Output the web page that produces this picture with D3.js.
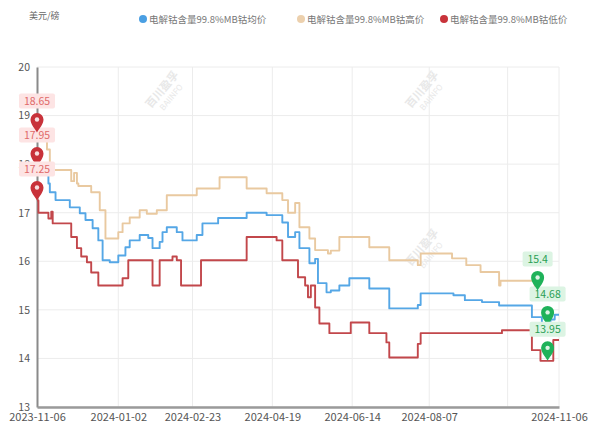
<!DOCTYPE html>
<html>
<head>
<meta charset="utf-8">
<script src="https://cdn.jsdelivr.net/npm/d3@7"></script>
<style>
  body { margin: 0; background: #fff; }
  svg { display: block; }
</style>
</head>
<body>
<svg id="chart" width="590" height="425"></svg>
<script>
// Axis ticks
const tickDates = ["2023-11-06", "2024-01-02", "2024-02-23", "2024-04-19", "2024-06-14", "2024-08-07", "2024-11-06"];
const gridOnlyDates = ["2024-10-01"];
const yTicks = [13, 14, 15, 16, 17, 18, 19, 20];
const unitLabel = "美元/磅";

// Series names
const seriesNames = ["电解钴含量99.8%MB钴均价", "电解钴含量99.8%MB钴高价", "电解钴含量99.8%MB钴低价"];

// Price samples [date, price] (each price holds until the next sample)
const avgPrice = [
  ["2023-11-06", 17.95], ["2023-11-14", 17.6], ["2023-11-15", 17.42], ["2023-11-19", 17.26],
  ["2023-11-29", 17.11], ["2023-12-06", 16.99], ["2023-12-10", 16.85], ["2023-12-15", 16.68],
  ["2023-12-19", 16.43], ["2023-12-22", 16.02], ["2023-12-27", 15.98], ["2024-01-02", 16.12],
  ["2024-01-07", 16.29], ["2024-01-10", 16.43], ["2024-01-17", 16.54], ["2024-01-23", 16.48],
  ["2024-01-26", 16.27], ["2024-01-31", 16.4], ["2024-02-02", 16.6], ["2024-02-05", 16.7],
  ["2024-02-12", 16.6], ["2024-02-16", 16.43], ["2024-02-26", 16.54], ["2024-03-01", 16.78],
  ["2024-03-12", 16.89], ["2024-04-01", 17.0], ["2024-04-15", 16.95], ["2024-04-26", 16.8],
  ["2024-04-30", 16.5], ["2024-05-05", 16.6], ["2024-05-08", 16.27], ["2024-05-15", 15.96],
  ["2024-05-19", 16.05], ["2024-05-21", 15.55], ["2024-05-27", 15.36], ["2024-05-30", 15.4],
  ["2024-06-05", 15.5], ["2024-06-12", 15.65], ["2024-06-26", 15.44], ["2024-07-10", 15.03],
  ["2024-07-30", 15.1], ["2024-08-01", 15.34], ["2024-08-24", 15.3], ["2024-09-01", 15.2],
  ["2024-09-13", 15.16], ["2024-09-25", 15.09], ["2024-10-18", 14.85], ["2024-10-25", 14.68],
  ["2024-10-29", 14.68], ["2024-10-31", 14.8], ["2024-11-03", 14.9], ["2024-11-06", 14.9]
];
const highPrice = [
  ["2023-11-06", 18.65], ["2023-11-13", 18.3], ["2023-11-15", 17.88], ["2023-11-30", 17.65],
  ["2023-12-02", 17.82], ["2023-12-04", 17.6], ["2023-12-05", 17.55], ["2023-12-14", 17.42],
  ["2023-12-20", 17.05], ["2023-12-24", 16.47], ["2024-01-02", 16.6], ["2024-01-05", 16.78],
  ["2024-01-10", 16.9], ["2024-01-17", 17.05], ["2024-01-22", 16.98], ["2024-01-29", 17.05],
  ["2024-02-05", 17.36], ["2024-02-26", 17.5], ["2024-03-13", 17.73], ["2024-04-01", 17.5],
  ["2024-04-15", 17.4], ["2024-04-26", 17.26], ["2024-04-30", 17.0], ["2024-05-05", 17.2],
  ["2024-05-08", 16.7], ["2024-05-15", 16.47], ["2024-05-19", 16.23], ["2024-05-28", 16.16],
  ["2024-05-30", 16.22], ["2024-06-05", 16.5], ["2024-06-26", 16.29], ["2024-07-10", 16.02],
  ["2024-07-30", 15.92], ["2024-08-01", 16.16], ["2024-08-23", 16.06], ["2024-09-02", 15.92],
  ["2024-09-12", 15.78], ["2024-09-25", 15.5], ["2024-09-26", 15.6], ["2024-10-20", 15.4],
  ["2024-10-22", 15.4]
];
const lowPrice = [
  ["2023-11-06", 17.25], ["2023-11-07", 17.0], ["2023-11-14", 16.88], ["2023-11-16", 17.02],
  ["2023-11-17", 16.78], ["2023-11-30", 16.5], ["2023-12-04", 16.27], ["2023-12-07", 16.1],
  ["2023-12-11", 15.98], ["2023-12-14", 15.77], ["2023-12-19", 15.5], ["2024-01-05", 15.65],
  ["2024-01-09", 16.02], ["2024-01-26", 15.5], ["2024-01-31", 16.02], ["2024-02-09", 16.1],
  ["2024-02-12", 16.02], ["2024-02-15", 15.5], ["2024-02-29", 16.02], ["2024-04-01", 16.5],
  ["2024-04-22", 16.43], ["2024-04-26", 16.02], ["2024-05-07", 15.67], ["2024-05-12", 15.5],
  ["2024-05-14", 15.26], ["2024-05-16", 15.5], ["2024-05-19", 15.05], ["2024-05-22", 14.72],
  ["2024-05-29", 14.52], ["2024-06-13", 14.74], ["2024-06-26", 14.52], ["2024-07-08", 14.33],
  ["2024-07-10", 14.02], ["2024-07-30", 14.3], ["2024-08-01", 14.52], ["2024-09-27", 14.58],
  ["2024-10-18", 14.17], ["2024-10-24", 13.95], ["2024-10-29", 13.95], ["2024-11-02", 14.38],
  ["2024-11-06", 14.38]
];

const seriesColors = ["#55a7e6", "#e9c9a0", "#c2474b"];
const legendDotColors = ["#4a9fe3", "#ecd0ad", "#c8333a"];

const parse = d3.timeParse("%Y-%m-%d");
const svg = d3.select("#chart");
const fontCJK = "'Noto Sans CJK SC', 'Noto Sans', sans-serif";

const x = d3.scaleTime()
  .domain([parse(tickDates[0]), parse(tickDates[tickDates.length - 1])])
  .range([37, 559]);
const y = d3.scaleLinear().domain([13, 20]).range([407, 67]);

// Grid
const grid = svg.append("g");
grid.selectAll("line.h").data(yTicks).join("line")
  .attr("x1", x.range()[0]).attr("x2", x.range()[1])
  .attr("y1", d => y(d)).attr("y2", d => y(d))
  .attr("stroke", "#ececec").attr("stroke-width", 1);
grid.selectAll("line.v").data(tickDates.slice(1).concat(gridOnlyDates)).join("line")
  .attr("x1", d => x(parse(d))).attr("x2", d => x(parse(d)))
  .attr("y1", y(20)).attr("y2", y(13))
  .attr("stroke", "#ececec").attr("stroke-width", 1);

// Watermarks
const wm = svg.append("g").attr("fill", "#e8e8e8").attr("font-family", fontCJK);
[[165, 92], [425, 92], [425, 250]].forEach(([cx, cy]) => {
  const g = wm.append("g").attr("transform", `translate(${cx},${cy}) rotate(-50)`);
  g.append("text").attr("text-anchor", "middle").attr("font-size", 11).attr("font-weight", "bold").text("百川盈孚");
  g.append("text").attr("text-anchor", "middle").attr("y", 11).attr("font-size", 8).text("BAIINFO");
});

// Axes
const yAxis = svg.append("g").attr("transform", `translate(${x.range()[0]},0)`)
  .call(d3.axisLeft(y).tickValues(yTicks).tickSize(0).tickPadding(7).tickFormat(d3.format("d")));
yAxis.select(".domain").attr("stroke", "#8a8a8a").attr("stroke-width", 2);
yAxis.selectAll("text").attr("font-family", fontCJK).attr("font-size", 10.5).attr("fill", "#555");

const xAxis = svg.append("g").attr("transform", `translate(0,${y.range()[0]})`)
  .call(d3.axisBottom(x).tickValues(tickDates.map(parse)).tickSize(0).tickPadding(6)
    .tickFormat(d3.timeFormat("%Y-%m-%d")));
xAxis.select(".domain").attr("stroke", "#9a9a9a").attr("stroke-width", 2.5);
xAxis.selectAll("text").attr("font-family", fontCJK).attr("font-size", 11).attr("fill", "#555");

// Unit label
svg.append("text").attr("x", 29).attr("y", 19)
  .attr("font-family", fontCJK).attr("font-size", 9).attr("fill", "#666").text(unitLabel);

// Legend
const legendX = [143, 301, 444];
const legend = svg.append("g");
seriesNames.forEach((name, i) => {
  legend.append("circle").attr("cx", legendX[i]).attr("cy", 19).attr("r", 4).attr("fill", legendDotColors[i]);
  legend.append("text").attr("x", legendX[i] + 6).attr("y", 22.5)
    .attr("font-family", fontCJK).attr("font-size", 9.5).attr("fill", "#777").text(name);
});

// Lines
const allSeries = [avgPrice, highPrice, lowPrice];
const line = d3.line()
  .x(d => x(parse(d[0])))
  .y(d => y(d[1]))
  .curve(d3.curveStepAfter);
allSeries.forEach((data, i) => {
  svg.append("path").datum(data)
    .attr("fill", "none").attr("stroke", seriesColors[i])
    .attr("stroke-width", 1.9).attr("stroke-linejoin", "round")
    .attr("d", line);
});

// Max / min pins
const pinPath = "M0,0 C-2,-4 -6.5,-8 -6.5,-13 A6.5,6.5 0 1,1 6.5,-13 C6.5,-8 2,-4 0,0 Z";
function drawPin(point, kind) {
  const px = x(parse(point[0])), py = y(point[1]);
  const isMax = kind === "max";
  const pinColor = isMax ? "#c8323a" : "#1fb25a";
  const bg = isMax ? "#fde4e4" : "#dcf4e3";
  const fg = isMax ? "#e06a6a" : "#2a9f55";
  const g = svg.append("g").attr("transform", `translate(${px},${py})`);
  g.append("path").attr("d", pinPath).attr("fill", pinColor);
  g.append("circle").attr("cx", 0).attr("cy", -13).attr("r", 2.2).attr("fill", "#fff").attr("opacity", 0.85);
  const label = String(point[1]);
  const w = label.length * 6 + 6;
  g.append("rect").attr("x", -w / 2).attr("y", -39).attr("width", w).attr("height", 15)
    .attr("rx", 2).attr("fill", bg);
  g.append("text").attr("x", 0).attr("y", -27.5).attr("text-anchor", "middle")
    .attr("font-family", fontCJK).attr("font-size", 10.5).attr("fill", fg).text(label);
}
// Highest price: first occurrence; lowest price: latest occurrence
allSeries.forEach(data => {
  const maxPoint = data.reduce((a, b) => (b[1] > a[1] ? b : a));
  drawPin(maxPoint, "max");
});
allSeries.forEach(data => {
  const minPoint = data.reduce((a, b) => (b[1] <= a[1] ? b : a));
  drawPin(minPoint, "min");
});
</script>
</body>
</html>
